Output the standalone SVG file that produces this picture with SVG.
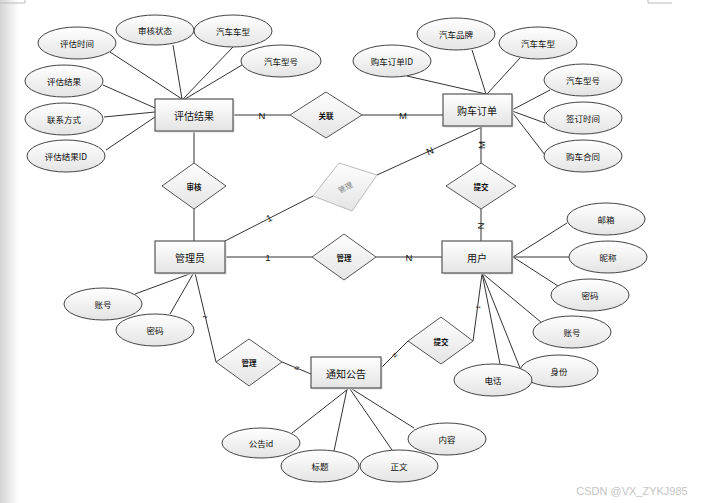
<svg xmlns="http://www.w3.org/2000/svg" width="707" height="503" viewBox="0 0 707 503">
<defs>
<linearGradient id="gv" x1="0" y1="0" x2="0" y2="1"><stop offset="0" stop-color="#ffffff"/><stop offset="1" stop-color="#e4e4e4"/></linearGradient>
<linearGradient id="gl" x1="0" y1="0" x2="1" y2="0"><stop offset="0" stop-color="#d4d4d4"/><stop offset="1" stop-color="#ffffff"/></linearGradient>
<style>
.ent{fill:url(#gv);stroke:#555;stroke-width:1.2}
.sh{fill:#dcdcdc}
.att{fill:url(#gv);stroke:#444;stroke-width:1}
.rel{fill:url(#gv);stroke:#555;stroke-width:1}
.ln{stroke:#333;stroke-width:1;fill:none}
text{font-family:"Noto Sans CJK SC","Liberation Sans",sans-serif;text-anchor:middle;dominant-baseline:central;fill:#111}
.te{font-size:10px}
.ta{font-size:8.5px}
.tr{font-size:7.5px;font-weight:bold}
.tc{font-family:"Liberation Sans",sans-serif;font-size:9.5px}
.ts{font-family:"Liberation Sans",sans-serif;font-size:6px}
</style>
</defs>
<rect width="707" height="503" fill="#fff"/>
<rect x="0" y="0" width="19" height="503" fill="url(#gl)"/>
<path d="M0 3H25V0M648 0V3H672" stroke="#bbb" fill="none"/>

<g id="connectors">
<line class="ln" x1="110" y1="52" x2="182" y2="99"/>
<line class="ln" x1="173" y1="45" x2="182" y2="99"/>
<line class="ln" x1="233" y1="47" x2="183" y2="99"/>
<line class="ln" x1="242" y1="65" x2="185" y2="99"/>
<line class="ln" x1="103" y1="85" x2="155" y2="108"/>
<line class="ln" x1="104" y1="117" x2="155" y2="112"/>
<line class="ln" x1="106" y1="150" x2="155" y2="117"/>
<line class="ln" x1="472" y1="50" x2="486" y2="94"/>
<line class="ln" x1="520" y1="58" x2="487" y2="94"/>
<line class="ln" x1="407" y1="76" x2="486" y2="94"/>
<line class="ln" x1="550" y1="90" x2="512" y2="110"/>
<line class="ln" x1="512" y1="111" x2="545" y2="123"/>
<line class="ln" x1="512" y1="112" x2="545" y2="155"/>
<line class="ln" x1="135" y1="294" x2="192" y2="273"/>
<line class="ln" x1="170" y1="314" x2="193" y2="274"/>
<line class="ln" x1="567" y1="223" x2="513" y2="257"/>
<line class="ln" x1="513" y1="257" x2="569" y2="257"/>
<line class="ln" x1="513" y1="257" x2="558" y2="286"/>
<line class="ln" x1="482" y1="273" x2="542" y2="323"/>
<line class="ln" x1="482" y1="273" x2="520" y2="368"/>
<line class="ln" x1="482" y1="273" x2="500" y2="364"/>
<line class="ln" x1="292" y1="433" x2="348" y2="389"/>
<line class="ln" x1="334" y1="451" x2="347" y2="389"/>
<line class="ln" x1="392" y1="450" x2="350" y2="389"/>
<line class="ln" x1="414" y1="428" x2="352" y2="389"/>
<line class="ln" x1="233" y1="115" x2="290" y2="115"/>
<line class="ln" x1="362" y1="115" x2="443" y2="115"/>
<line class="ln" x1="194" y1="131" x2="194" y2="163"/>
<line class="ln" x1="194" y1="209" x2="194" y2="241"/>
<line class="ln" x1="225" y1="257" x2="312" y2="257"/>
<line class="ln" x1="376" y1="257" x2="442" y2="257"/>
<line class="ln" x1="481" y1="127" x2="481" y2="163"/>
<line class="ln" x1="481" y1="209" x2="481" y2="241"/>
<line class="ln" x1="225" y1="241" x2="313" y2="196"/>
<line class="ln" x1="377" y1="175" x2="482" y2="127"/>
<line class="ln" x1="195" y1="273" x2="216" y2="362"/>
<line class="ln" x1="282" y1="362" x2="311" y2="374"/>
<line class="ln" x1="381" y1="368" x2="408" y2="341"/>
<line class="ln" x1="473" y1="341" x2="482" y2="274"/>
<text class="tc" x="262" y="115">N</text>
<text class="tc" x="403" y="115">M</text>
<text class="tc" x="268" y="257">1</text>
<text class="tc" x="409" y="257">N</text>
<text class="tc" transform="translate(481,145) rotate(-90)">M</text>
<text class="tc" transform="translate(481,226) rotate(90)">N</text>
<text class="tc" transform="translate(269,218) rotate(-27)">1</text>
<text class="tc" transform="translate(430,151) rotate(-25)">N</text>
<text class="ts" transform="translate(205,317) rotate(-77)">1</text>
<text class="ts" transform="translate(297,368) rotate(-68)">N</text>
<text class="ts" transform="translate(395,355) rotate(45)">N</text>
<text class="ts" transform="translate(478,307) rotate(-82)">1</text>
</g>

<g id="e_pgjg"><rect class="sh" x="156.5" y="100.5" width="78" height="32"/><rect class="ent" x="155" y="99" width="78" height="32"/><text class="te" x="194" y="115">评估结果</text></g>
<g id="e_gcdd"><rect class="sh" x="444.5" y="95.5" width="69" height="32"/><rect class="ent" x="443" y="94" width="69" height="32"/><text class="te" x="477" y="110">购车订单</text></g>
<g id="e_gly"><rect class="sh" x="156.5" y="242.5" width="70" height="32"/><rect class="ent" x="155" y="241" width="70" height="32"/><text class="te" x="190" y="257">管理员</text></g>
<g id="e_yh"><rect class="sh" x="443.5" y="242.5" width="70" height="32"/><rect class="ent" x="442" y="241" width="70" height="32"/><text class="te" x="477" y="257">用户</text></g>
<g id="e_tzgg"><rect class="sh" x="312.5" y="358.5" width="70" height="31"/><rect class="ent" x="311" y="357" width="70" height="31"/><text class="te" x="346" y="373">通知公告</text></g>

<g id="r_gl1"><polygon class="rel" points="326,92 362,115 326,138 290,115"/><text class="tr" x="326" y="115">关联</text></g>
<g id="r_sh"><polygon class="rel" points="194,163 226,186 194,209 162,186"/><text class="tr" x="194" y="186">审核</text></g>
<g id="r_gl2"><polygon class="rel" points="344,234 376,257 344,280 312,257"/><text class="tr" x="344" y="257">管理</text></g>
<g id="r_tj1"><polygon class="rel" points="481,163 516,186 481,209 446,186"/><text class="tr" x="481" y="186">提交</text></g>
<g id="r_tj2"><polygon class="rel" points="441,317 473,341 441,364 408,341"/><text class="tr" x="441" y="341">提交</text></g>
<g id="r_gl3"><polygon class="rel" points="249,339 282,362 249,386 216,362"/><text class="tr" x="249" y="362">管理</text></g>
<g id="r_gl4"><polygon points="339,163 377,175 352,211 313,196" fill="url(#gv)" stroke="#bbb" stroke-width="1"/><text class="tr" style="font-weight:normal;fill:#888" transform="translate(345,187) rotate(-28)">管理</text></g>

<g id="a_pgsj"><ellipse class="att" cx="77" cy="43" rx="39" ry="16"/><text class="ta" x="77" y="43">评估时间</text></g>
<g id="a_shzt"><ellipse class="att" cx="155" cy="30" rx="39" ry="15"/><text class="ta" x="155" y="30">审核状态</text></g>
<g id="a_qccx1"><ellipse class="att" cx="233" cy="31" rx="39" ry="16"/><text class="ta" x="233" y="31">汽车车型</text></g>
<g id="a_qcxh1"><ellipse class="att" cx="281" cy="61" rx="40" ry="16"/><text class="ta" x="281" y="61">汽车型号</text></g>
<g id="a_pgjg"><ellipse class="att" cx="64" cy="81" rx="39" ry="16"/><text class="ta" x="64" y="81">评估结果</text></g>
<g id="a_lxfs"><ellipse class="att" cx="64" cy="119" rx="39" ry="16"/><text class="ta" x="64" y="119">联系方式</text></g>
<g id="a_pgjgid"><ellipse class="att" cx="66" cy="156" rx="39" ry="16"/><text class="ta" x="66" y="156">评估结果ID</text></g>

<g id="a_qcpp"><ellipse class="att" cx="456" cy="34" rx="39" ry="16"/><text class="ta" x="456" y="34">汽车品牌</text></g>
<g id="a_qccx2"><ellipse class="att" cx="538" cy="43" rx="39" ry="16"/><text class="ta" x="538" y="43">汽车车型</text></g>
<g id="a_gcddid"><ellipse class="att" cx="392" cy="61" rx="39" ry="16"/><text class="ta" x="392" y="61">购车订单ID</text></g>
<g id="a_qcxh2"><ellipse class="att" cx="583" cy="80" rx="39" ry="16"/><text class="ta" x="583" y="80">汽车型号</text></g>
<g id="a_qdsj"><ellipse class="att" cx="583" cy="118" rx="39" ry="16"/><text class="ta" x="583" y="118">签订时间</text></g>
<g id="a_gcht"><ellipse class="att" cx="583" cy="156" rx="39" ry="16"/><text class="ta" x="583" y="156">购车合同</text></g>

<g id="a_zh1"><ellipse class="att" cx="103" cy="304" rx="39" ry="16"/><text class="ta" x="103" y="304">账号</text></g>
<g id="a_mm1"><ellipse class="att" cx="155" cy="330" rx="39" ry="16"/><text class="ta" x="155" y="330">密码</text></g>

<g id="a_yx"><ellipse class="att" cx="606" cy="219" rx="39" ry="16"/><text class="ta" x="606" y="219">邮箱</text></g>
<g id="a_nc"><ellipse class="att" cx="608" cy="257" rx="39" ry="16"/><text class="ta" x="608" y="257">昵称</text></g>
<g id="a_mm2"><ellipse class="att" cx="590" cy="295" rx="39" ry="16"/><text class="ta" x="590" y="295">密码</text></g>
<g id="a_zh2"><ellipse class="att" cx="572" cy="332" rx="39" ry="16"/><text class="ta" x="572" y="332">账号</text></g>
<g id="a_sf"><ellipse class="att" cx="559" cy="371" rx="39" ry="16"/><text class="ta" x="559" y="371">身份</text></g>
<g id="a_dh"><ellipse class="att" cx="493" cy="380" rx="39" ry="16"/><text class="ta" x="493" y="380">电话</text></g>

<g id="a_ggid"><ellipse class="att" cx="261" cy="443" rx="39" ry="15"/><text class="ta" x="261" y="443">公告id</text></g>
<g id="a_bt"><ellipse class="att" cx="320" cy="466" rx="39" ry="16"/><text class="ta" x="320" y="466">标题</text></g>
<g id="a_zw"><ellipse class="att" cx="399" cy="466" rx="39" ry="16"/><text class="ta" x="399" y="466">正文</text></g>
<g id="a_nr"><ellipse class="att" cx="447" cy="439" rx="39" ry="16"/><text class="ta" x="447" y="439">内容</text></g>

<text x="632" y="491" style="font-family:'Liberation Sans',sans-serif;font-size:11px;fill:#c4c4c4">CSDN @VX_ZYKJ985</text>
</svg>
